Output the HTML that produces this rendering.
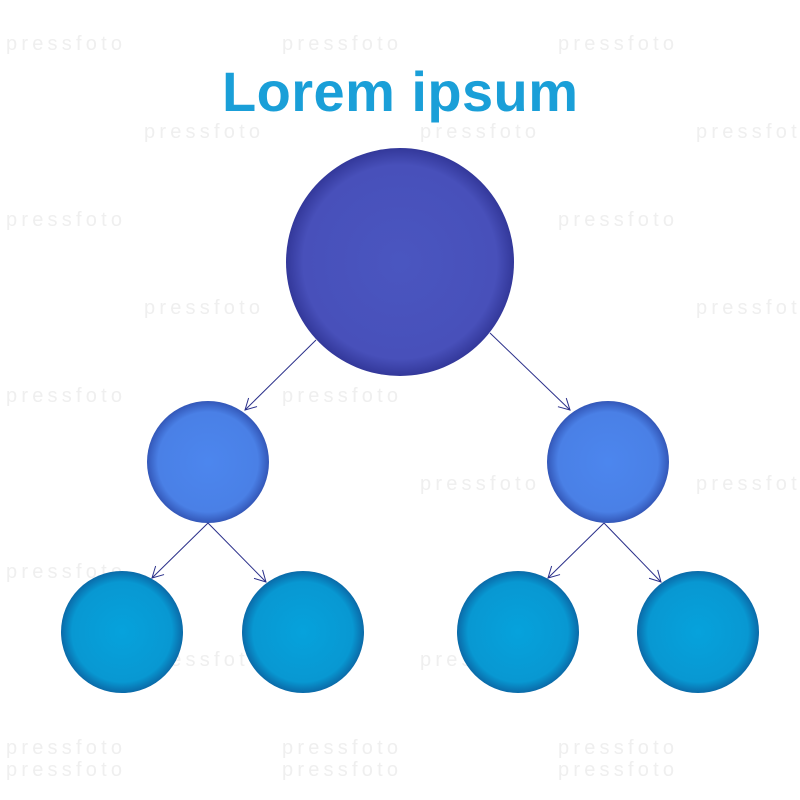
<!DOCTYPE html>
<html><head><meta charset="utf-8"><style>
html,body{margin:0;padding:0;background:#fff;width:800px;height:800px;overflow:hidden}
</style></head><body>
<svg width="800" height="800" viewBox="0 0 800 800" xmlns="http://www.w3.org/2000/svg">
<defs>
<radialGradient id="g1" cx="50%" cy="50%" r="50%">
<stop offset="0" stop-color="#4a56c0"/><stop offset="0.85" stop-color="#4850ba"/><stop offset="1" stop-color="#33389a"/></radialGradient>
<radialGradient id="g2" cx="50%" cy="50%" r="50%">
<stop offset="0" stop-color="#4c86ee"/><stop offset="0.82" stop-color="#4a80e6"/><stop offset="1" stop-color="#3357b8"/></radialGradient>
<radialGradient id="g3" cx="50%" cy="50%" r="50%">
<stop offset="0" stop-color="#06a2dc"/><stop offset="0.82" stop-color="#0898d2"/><stop offset="1" stop-color="#0a6aa8"/></radialGradient>
<marker id="a" markerWidth="14" markerHeight="14" refX="12" refY="7" orient="auto" markerUnits="userSpaceOnUse">
<path d="M1,1 L12,7 L1,13" fill="none" stroke="#2a2f8a" stroke-width="1"/></marker>
</defs>
<g fill="#efefef" font-family="Liberation Sans, sans-serif" font-size="20">
<text x="6" y="50" textLength="116">pressfoto</text><text x="282" y="50" textLength="116">pressfoto</text><text x="558" y="50" textLength="116">pressfoto</text>
<text x="144" y="138" textLength="116">pressfoto</text><text x="420" y="138" textLength="116">pressfoto</text><text x="696" y="138" textLength="116">pressfoto</text>
<text x="6" y="226" textLength="116">pressfoto</text><text x="558" y="226" textLength="116">pressfoto</text>
<text x="144" y="314" textLength="116">pressfoto</text><text x="696" y="314" textLength="116">pressfoto</text>
<text x="6" y="402" textLength="116">pressfoto</text><text x="282" y="402" textLength="116">pressfoto</text>
<text x="420" y="490" textLength="116">pressfoto</text><text x="696" y="490" textLength="116">pressfoto</text>
<text x="6" y="578" textLength="116">pressfoto</text>
<text x="144" y="666" textLength="116">pressfoto</text><text x="420" y="666" textLength="116">pressfoto</text>
<text x="6" y="754" textLength="116">pressfoto</text><text x="282" y="754" textLength="116">pressfoto</text><text x="558" y="754" textLength="116">pressfoto</text>
<text x="6" y="776" textLength="116">pressfoto</text><text x="282" y="776" textLength="116">pressfoto</text><text x="558" y="776" textLength="116">pressfoto</text>
</g>
<text x="400" y="111" text-anchor="middle" font-family="Liberation Sans, sans-serif" font-weight="bold" font-size="56" fill="#1a9fd8" textLength="356">Lorem ipsum</text>
<circle cx="400" cy="262" r="114" fill="url(#g1)"/>
<circle cx="208" cy="462" r="61" fill="url(#g2)"/>
<circle cx="608" cy="462" r="61" fill="url(#g2)"/>
<circle cx="122" cy="632" r="61" fill="url(#g3)"/>
<circle cx="303" cy="632" r="61" fill="url(#g3)"/>
<circle cx="518" cy="632" r="61" fill="url(#g3)"/>
<circle cx="698" cy="632" r="61" fill="url(#g3)"/>
<g stroke="#2a2f8a" stroke-width="1" fill="none" marker-end="url(#a)">
<line x1="316" y1="340" x2="245" y2="410"/>
<line x1="490" y1="333" x2="570" y2="410"/>
<line x1="208" y1="523" x2="152" y2="578"/>
<line x1="208" y1="523" x2="266" y2="582"/>
<line x1="604" y1="523" x2="548" y2="578"/>
<line x1="604" y1="523" x2="661" y2="582"/>
</g>
</svg>
</body></html>
